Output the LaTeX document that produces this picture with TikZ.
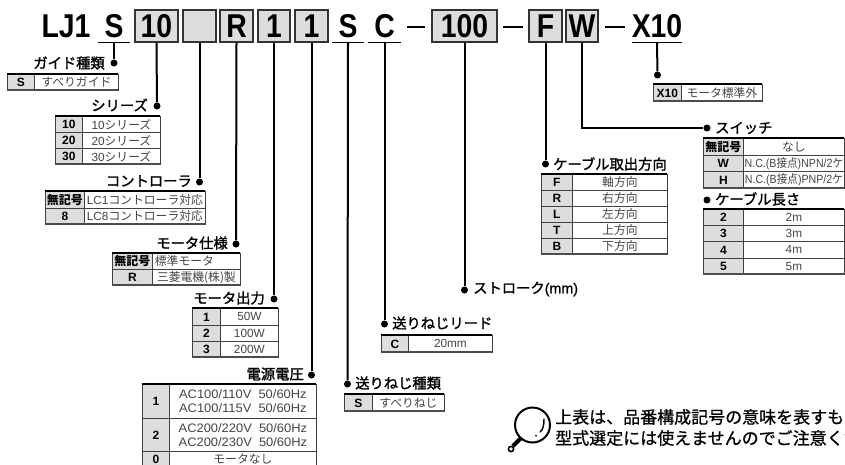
\documentclass[tikz,border=0pt]{standalone}
\usepackage{fontspec}
\usepackage{graphicx}
\setmainfont{Liberation Sans}
\newfontfamily\jp{Noto Sans CJK JP}
\newfontfamily\jpm[FakeBold=1.5]{Noto Sans CJK JP}
\newfontfamily\jpn[FakeBold=0.8]{Noto Sans CJK JP}
\newfontfamily\lat{Liberation Sans}
\newfontfamily\latm[FakeBold=1.0]{Liberation Sans}
\newcommand\hdrfont{\fontsize{33}{33}\selectfont\bfseries\lat}
\newcommand\kfont{\fontsize{12}{13}\selectfont\bfseries\lat}
\newcommand\vfont{\fontsize{11.8}{14}\selectfont\jp}
\newcommand\lblfont{\fontsize{14.3}{15}\selectfont\jpm}
\newcommand\hd[1]{\scalebox{.86}[1]{\hdrfont #1}}
\newcommand\la[1]{{\lat #1}}
\definecolor{cellgray}{HTML}{DDDDDD}
\definecolor{valtext}{HTML}{444444}
\tikzset{
  x=1pt,y=-1pt,
  hdrbox/.style={draw=black!80,line width=1.4pt,fill=cellgray,inner sep=0pt,minimum height=32pt},
  hdrplain/.style={inner sep=0pt,minimum height=32pt},
  ul/.style={line width=1.3pt},
  rule/.style={line width=2pt,black},
  leader/.style={line width=2pt,black},
  pin/.style={circle,fill=black,inner sep=0pt,minimum size=7pt},
  lbl/.style={inner sep=0pt,font=\lblfont},
  keycell/.style={draw=black!75,line width=.8pt,fill=cellgray,inner sep=0pt,font=\kfont,anchor=north west},
  valcell/.style={draw=black!75,line width=.8pt,fill=white,inner sep=0pt,font=\vfont,text=valtext,anchor=north west,align=center},
}
% name x0 split x1 ytop ybot key val
\newcommand\trow[8]{%
  \node[keycell,minimum width={(#3-#2)*1pt},minimum height={(#6-#5)*1pt}] (#1k) at (#2,#5) {#7};
  \node[valcell,minimum width={(#4-#3)*1pt},minimum height={(#6-#5)*1pt}] (#1v) at (#3,#5) {#8};
}
\newcommand\ttop[3]{\draw[line width=1.7pt,black] (#1,#3) -- (#2,#3);}
\newcommand\tdn[3]{\draw[line width=1.2pt,black!70] (#1,#3) -- (#2,#3);}
\newcommand\acl[1]{\scalebox{1.05}[1]{\fontsize{12.3}{14}\selectfont\lat #1}}
\begin{document}
\begin{tikzpicture}
\useasboundingbox (0,0) rectangle (845,464);
\fill[white] (0,0) rectangle (845,464);
% header
\node[hdrplain,anchor=center] (lj) at (66,26) {\hd{LJ1}};
\node[hdrplain,minimum width=32pt] (hS) at (114,26) {\hd{S}};
\node[hdrbox,minimum width=43pt] (h10) at (156.5,26) {\hd{10}};
\node[hdrbox,minimum width=33pt] (hblank) at (199.5,26) {};
\node[hdrbox,minimum width=33pt] (hR) at (236.5,26) {\hd{R}};
\node[hdrbox,minimum width=32pt] (hM) at (274,26) {\hd{1}};
\node[hdrbox,minimum width=33pt] (hV) at (311.5,26) {\hd{1}};
\node[hdrplain,minimum width=32pt] (hS2) at (348,26) {\hd{S}};
\node[hdrplain,minimum width=32pt] (hC) at (384.5,26) {\hd{C}};
\node[hdrbox,minimum width=65pt] (h100) at (464.5,26) {\hd{100}};
\node[hdrbox,minimum width=33pt] (hF) at (545.5,26) {\hd{F}};
\node[hdrbox,minimum width=32pt] (hW) at (582,26) {\hd{W}};
\node[hdrplain,minimum width=50pt] (hX) at (657,26) {\hd{X10}};
\foreach \n in {hS,hS2,hC,hX}{\draw[ul] (\n.south west) -- (\n.south east);}
\draw[rule] (407,26.5) -- (425,26.5);
\draw[rule] (503,26.5) -- (523,26.5);
\draw[rule] (605,26.5) -- (625,26.5);
% pins
\node[pin] (p1) at (114,63) {};
\node[pin] (p2) at (157,106) {};
\node[pin] (p3) at (199.5,182) {};
\node[pin] (p4) at (236,244) {};
\node[pin] (p5) at (274,299) {};
\node[pin] (p6) at (311.5,375) {};
\node[pin] (p7) at (347.5,384) {};
\node[pin] (p8) at (384.5,324) {};
\node[pin] (p9) at (464.5,290) {};
\node[pin] (p10) at (545.5,164) {};
\node[pin] (p11) at (707,128) {};
\node[pin] (p12) at (707,200) {};
\node[pin] (p13) at (657.5,75) {};
\draw[leader] (hS.south) -- (p1);
\draw[leader] (h10.south) -- (p2);
\draw[leader] (hblank.south) -- (p3);
\draw[leader] (hR.south) -- (p4);
\draw[leader] (hM.south) -- (p5);
\draw[leader] (hV.south) -- (p6);
\draw[leader] (hS2.south) -- (p7);
\draw[leader] (hC.south) -- (p8);
\draw[leader] (h100.south) -- (p9);
\draw[leader] (hF.south) -- (p10);
\draw[leader] (hX.south) -- (p13);
\draw[leader] (hW.south) |- (p11);
% labels
\node[lbl,anchor=east] (l1) at (105,63) {ガイド種類};
\node[lbl,anchor=east] (l2) at (148,105) {シリーズ};
\node[lbl,anchor=east] (l3) at (192,181) {コントローラ};
\node[lbl,anchor=east] (l4) at (228,243) {モータ仕様};
\node[lbl,anchor=east] (l5) at (265,298) {モータ出力};
\node[lbl,anchor=east] (l6) at (304,374) {電源電圧};
\node[lbl,anchor=west] (l7) at (355,383) {送りねじ種類};
\node[lbl,anchor=west] (l8) at (392,323) {送りねじリード};
\node[lbl,anchor=west] (l9) at (473,289) {ストローク{\latm (mm)}};
\node[lbl,anchor=west] (l10) at (553,164) {ケーブル取出方向};
\node[lbl,anchor=west] (l11) at (715,128) {スイッチ};
\node[lbl,anchor=west] (l12) at (715,199) {ケーブル長さ};
% tables
\trow{a1}{7}{34}{118}{74}{90}{S}{すべりガイド}
\ttop{7}{118}{74}\tdn{7}{118}{90}
\trow{b1}{55}{82}{160}{116}{132}{10}{\la{10}シリーズ}
\trow{b2}{55}{82}{160}{132}{148}{20}{\la{20}シリーズ}
\trow{b3}{55}{82}{160}{148}{164}{30}{\la{30}シリーズ}
\ttop{55}{160}{116}\tdn{55}{160}{164}
\trow{c1}{45}{84}{205}{191}{208}{{\jp 無記号}}{\la{LC1}コントローラ対応}
\trow{c2}{45}{84}{205}{208}{224}{8}{\la{LC8}コントローラ対応}
\ttop{45}{205}{191}\tdn{45}{205}{224}
\trow{d1}{112}{152}{240}{253}{269}{{\jp 無記号}}{標準モータ\hspace*{24pt}}
\trow{d2}{112}{152}{240}{269}{285}{R}{三菱電機(株)製}
\ttop{112}{240}{253}\tdn{112}{240}{285}
\trow{e1}{192}{220}{278}{308}{325}{1}{\la{50W}}
\trow{e2}{192}{220}{278}{325}{341}{2}{\la{100W}}
\trow{e3}{192}{220}{278}{341}{357}{3}{\la{200W}}
\ttop{192}{278}{308}\tdn{192}{278}{357}
\trow{f1}{142}{169}{316}{384}{418}{1}{\acl{AC100/110V\ \ 50/60Hz}\\\acl{AC100/115V\ \ 50/60Hz}}
\trow{f2}{142}{169}{316}{418}{451}{2}{\acl{AC200/220V\ \ 50/60Hz}\\\acl{AC200/230V\ \ 50/60Hz}}
\trow{f3}{142}{169}{316}{451}{467}{0}{モータなし}
\ttop{142}{316}{384}
\trow{g1}{344}{372}{444}{394}{411}{S}{すべりねじ}
\ttop{344}{444}{394}\tdn{344}{444}{411}
\trow{h1}{381}{408}{492}{335}{352}{C}{\la{20mm}}
\ttop{381}{492}{335}\tdn{381}{492}{352}
\trow{i1}{541}{572}{667}{174}{190}{F}{軸方向}
\trow{i2}{541}{572}{667}{190}{206}{R}{右方向}
\trow{i3}{541}{572}{667}{206}{222}{L}{左方向}
\trow{i4}{541}{572}{667}{222}{238}{T}{上方向}
\trow{i5}{541}{572}{667}{238}{254}{B}{下方向}
\ttop{541}{667}{174}\tdn{541}{667}{254}
\trow{j1}{703}{743}{844}{138}{155}{{\jp 無記号}}{なし}
\trow{j2}{703}{743}{844}{155}{171}{W}{\scalebox{.9}[1]{\la{N.C.(B}接点\la{)NPN/2}ケ}}
\trow{j3}{703}{743}{844}{171}{188}{H}{\scalebox{.9}[1]{\la{N.C.(B}接点\la{)PNP/2}ケ}}
\ttop{703}{844}{138}\tdn{703}{844}{188}
\trow{k1}{703}{743}{844}{209}{225}{2}{\la{2m}}
\trow{k2}{703}{743}{844}{225}{241}{3}{\la{3m}}
\trow{k3}{703}{743}{844}{241}{258}{4}{\la{4m}}
\trow{k4}{703}{743}{844}{258}{274}{5}{\la{5m}}
\ttop{703}{844}{209}\tdn{703}{844}{274}
\trow{m1}{653}{681}{762}{84}{101}{X10}{モータ標準外}
\ttop{653}{762}{84}\tdn{653}{762}{101}
% magnifier
\draw[line width=2pt] (532.5,425) circle (17.5);
\draw[line width=4pt] (521,438) -- (513,446);
\draw[line width=1.6pt,fill=white] (511,449) circle (2.6);
\draw[line width=1.4pt,line cap=round] (544,419) .. controls (544,425) and (543,430) .. (540,432);
\fill (536,435.5) circle (1);
% note
\node[inner sep=0pt,anchor=west,font=\fontsize{17}{17}\selectfont\jpn] (n1) at (555,417) {上表は、品番構成記号の意味を表すも};
\node[inner sep=0pt,anchor=west,font=\fontsize{17}{17}\selectfont\jpn] (n2) at (555,438) {型式選定には使えませんのでご注意くだ};
\end{tikzpicture}
\end{document}
